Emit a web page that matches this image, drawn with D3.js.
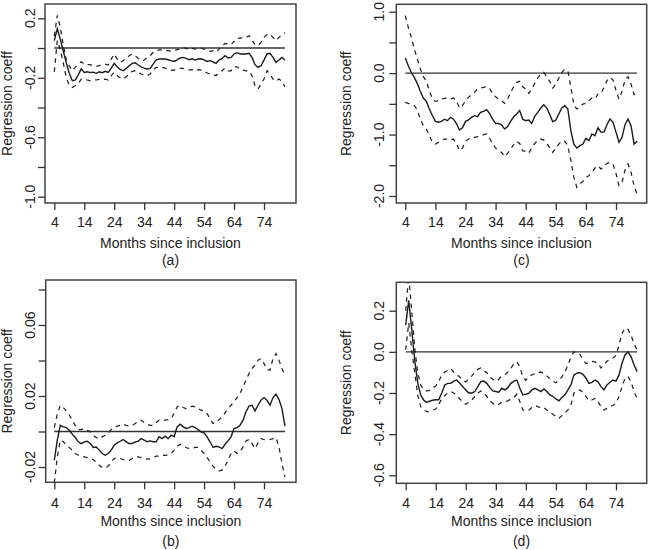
<!DOCTYPE html>
<html><head><meta charset="utf-8">
<script src="https://cdnjs.cloudflare.com/ajax/libs/d3/7.8.5/d3.min.js"></script>
<style>body{margin:0;background:#fff}svg{display:block}text{font-family:"Liberation Sans",Arial,Helvetica,sans-serif;fill:#222}</style>
</head><body><svg id="c" width="648" height="550"></svg>
<script>
// ---- data ----
const months = [4,5,6,7,8,9,10,11,12,13,14,15,16,17,18,19,20,21,22,23,24,25,26,27,28,29,30,31,32,33,34,35,36,37,38,39,40,41,42,43,44,45,46,47,48,49,50,51,52,53,54,55,56,57,58,59,60,61,62,63,64,65,66,67,68,69,70,71,72,73,74,75,76,77,78,79,80,81];
const xTicks = [4,14,24,34,44,54,64,74];
const xTickLabels = ["4","14","24","34","44","54","64","74"];
const xTitle = "Months since inclusion";
const yTitle = "Regression coeff";

// panel (a)
const aSolid = [0.05,0.13,0.06,-0.02,-0.10,-0.17,-0.22,-0.215,-0.18,-0.14,-0.165,-0.16,-0.165,-0.162,-0.17,-0.16,-0.166,-0.157,-0.164,-0.135,-0.103,-0.126,-0.144,-0.153,-0.137,-0.119,-0.103,-0.099,-0.114,-0.126,-0.135,-0.141,-0.137,-0.108,-0.079,-0.074,-0.074,-0.074,-0.079,-0.085,-0.09,-0.079,-0.067,-0.063,-0.07,-0.079,-0.072,-0.081,-0.074,-0.072,-0.079,-0.09,-0.085,-0.094,-0.103,-0.081,-0.07,-0.052,-0.067,-0.063,-0.04,-0.031,-0.04,-0.04,-0.04,-0.036,-0.063,-0.112,-0.13,-0.119,-0.081,-0.04,-0.036,-0.063,-0.097,-0.081,-0.063,-0.081];
const aUpper = [0.08,0.22,0.14,0.02,-0.08,-0.12,-0.153,-0.13,-0.108,-0.092,-0.108,-0.112,-0.112,-0.119,-0.123,-0.119,-0.112,-0.108,-0.114,-0.074,-0.04,-0.074,-0.097,-0.085,-0.067,-0.052,-0.04,-0.052,-0.07,-0.085,-0.081,-0.063,-0.052,-0.029,-0.018,-0.013,-0.013,-0.018,-0.018,-0.022,-0.018,-0.011,-0.007,0.004,-0.002,-0.007,0.0,-0.007,0.0,0.0,-0.007,-0.018,-0.022,-0.018,-0.029,-0.007,0.016,0.031,0.027,0.022,0.045,0.067,0.065,0.072,0.072,0.083,0.054,0.022,0.016,0.038,0.072,0.09,0.094,0.072,0.05,0.072,0.09,0.103];
const aLower = [-0.16,0.05,-0.01,-0.10,-0.20,-0.25,-0.265,-0.254,-0.238,-0.209,-0.209,-0.215,-0.22,-0.215,-0.215,-0.211,-0.213,-0.209,-0.215,-0.186,-0.164,-0.186,-0.2,-0.209,-0.193,-0.175,-0.157,-0.153,-0.164,-0.175,-0.182,-0.186,-0.175,-0.148,-0.13,-0.13,-0.13,-0.135,-0.141,-0.148,-0.148,-0.141,-0.137,-0.137,-0.144,-0.148,-0.146,-0.153,-0.146,-0.148,-0.153,-0.168,-0.175,-0.179,-0.186,-0.164,-0.153,-0.135,-0.153,-0.153,-0.126,-0.126,-0.141,-0.148,-0.153,-0.153,-0.186,-0.254,-0.276,-0.243,-0.209,-0.153,-0.175,-0.209,-0.224,-0.209,-0.224,-0.26];
const aYTicks = [-1.0,-0.8,-0.6,-0.4,-0.2,0.0,0.2];
const aYTickLabels = ["-1.0","","-0.6","","-0.2","","0.2"];

// panel (c)
const cSolid = [0.246,0.12,0.01,-0.07,-0.17,-0.30,-0.405,-0.46,-0.585,-0.69,-0.785,-0.80,-0.785,-0.75,-0.775,-0.72,-0.75,-0.82,-0.925,-0.89,-0.785,-0.76,-0.72,-0.693,-0.71,-0.64,-0.622,-0.595,-0.655,-0.75,-0.82,-0.82,-0.84,-0.91,-0.87,-0.785,-0.71,-0.665,-0.61,-0.75,-0.775,-0.765,-0.82,-0.705,-0.64,-0.568,-0.515,-0.568,-0.676,-0.79,-0.763,-0.665,-0.568,-0.53,-0.584,-0.937,-1.155,-1.22,-1.18,-1.155,-1.06,-1.10,-0.99,-1.018,-0.89,-0.96,-0.96,-0.839,-0.747,-0.80,-0.96,-1.127,-1.045,-0.839,-0.747,-0.856,-1.154,-1.11];
const cUpper = [0.935,0.745,0.582,0.392,0.23,0.067,-0.058,-0.134,-0.286,-0.422,-0.46,-0.449,-0.422,-0.411,-0.405,-0.422,-0.405,-0.449,-0.568,-0.53,-0.449,-0.394,-0.351,-0.313,-0.259,-0.243,-0.232,-0.221,-0.248,-0.329,-0.384,-0.422,-0.449,-0.492,-0.422,-0.313,-0.221,-0.15,-0.134,-0.221,-0.259,-0.329,-0.259,-0.167,-0.08,-0.015,0.012,-0.058,-0.134,-0.243,-0.178,-0.08,0.012,0.061,0.04,-0.232,-0.514,-0.584,-0.557,-0.503,-0.492,-0.449,-0.405,-0.422,-0.34,-0.329,-0.232,-0.123,-0.069,-0.112,-0.286,-0.422,-0.297,-0.112,-0.058,-0.178,-0.351,-0.313];
const cLower = [-0.476,-0.492,-0.503,-0.53,-0.601,-0.748,-0.856,-0.911,-1.019,-1.127,-1.155,-1.127,-1.1,-1.073,-1.073,-1.089,-1.073,-1.144,-1.263,-1.219,-1.111,-1.073,-1.057,-1.046,-1.035,-1.019,-1.002,-0.991,-1.057,-1.155,-1.219,-1.263,-1.29,-1.36,-1.306,-1.236,-1.165,-1.111,-1.144,-1.263,-1.274,-1.306,-1.219,-1.144,-1.1,-1.073,-1.089,-1.144,-1.219,-1.29,-1.219,-1.155,-1.1,-1.111,-1.181,-1.425,-1.697,-1.86,-1.805,-1.762,-1.697,-1.67,-1.615,-1.545,-1.507,-1.561,-1.523,-1.469,-1.453,-1.48,-1.632,-1.832,-1.778,-1.577,-1.48,-1.615,-1.832,-1.968];
const cYTicks = [-2.0,-1.5,-1.0,-0.5,0.0,0.5,1.0];
const cYTickLabels = ["-2.0","","-1.0","","0.0","","1.0"];

// panel (b)
const bSolid = [-0.0162,-0.0049,0.0035,0.0026,0.0022,0.0007,-0.0015,-0.0034,-0.0058,-0.0068,-0.0058,-0.0055,-0.0068,-0.009,-0.0087,-0.0105,-0.0124,-0.0134,-0.0124,-0.0105,-0.0077,-0.0064,-0.0055,-0.0045,-0.0058,-0.0068,-0.0068,-0.0058,-0.0055,-0.004,-0.0049,-0.0058,-0.0053,-0.0058,-0.0058,-0.003,-0.004,-0.0026,-0.004,-0.0021,-0.003,0.0026,0.0041,0.0026,0.0017,0.0022,0.003,0.0022,0.0011,-0.0002,-0.0008,-0.003,-0.0058,-0.009,-0.0083,-0.0087,-0.0096,-0.0072,-0.0053,-0.003,0.0017,0.0022,0.0035,0.0064,0.0111,0.0143,0.0148,0.0116,0.0148,0.0176,0.0191,0.0176,0.0148,0.0191,0.021,0.018,0.0129,0.003];
const bUpper = [0.0022,0.0097,0.0148,0.0135,0.0116,0.0092,0.0064,0.0035,0.0011,0.0011,0.0017,0.0007,-0.0002,-0.0021,-0.0034,-0.0042,-0.003,-0.0021,-0.0008,0.0011,0.0022,0.003,0.0035,0.0041,0.0035,0.003,0.0034,0.0045,0.0058,0.0064,0.0051,0.0041,0.0035,0.0035,0.0049,0.0064,0.006,0.0064,0.0067,0.0073,0.0101,0.0139,0.0148,0.0135,0.0129,0.0133,0.0143,0.0139,0.0129,0.012,0.0116,0.0101,0.0073,0.0045,0.0049,0.0067,0.0082,0.0105,0.0129,0.0148,0.0167,0.0191,0.0214,0.0251,0.0289,0.0327,0.0355,0.0374,0.0402,0.0411,0.0383,0.0349,0.0345,0.0411,0.0439,0.0402,0.0355,0.0317];
const bLower = [-0.029,-0.0143,-0.0049,-0.0058,-0.0077,-0.009,-0.0105,-0.0124,-0.0134,-0.0139,-0.0143,-0.0147,-0.0152,-0.0158,-0.0171,-0.019,-0.0203,-0.0205,-0.0195,-0.0171,-0.0152,-0.0147,-0.0152,-0.0158,-0.0162,-0.0162,-0.0152,-0.0143,-0.0143,-0.0147,-0.0152,-0.0156,-0.0154,-0.0147,-0.0139,-0.0139,-0.0135,-0.0134,-0.0132,-0.0124,-0.0105,-0.0083,-0.0072,-0.0083,-0.009,-0.0096,-0.0096,-0.009,-0.009,-0.0105,-0.0124,-0.0147,-0.0171,-0.0195,-0.0214,-0.0222,-0.0218,-0.0195,-0.0162,-0.0124,-0.0109,-0.0124,-0.0115,-0.0087,-0.0053,-0.0045,-0.0068,-0.0096,-0.0064,-0.004,-0.0045,-0.0049,-0.0045,-0.004,-0.0034,-0.0087,-0.018,-0.0256];
const bYTicks = [-0.02,0.0,0.02,0.04,0.06,0.08];
const bYTickLabels = ["-0.02","","0.02","","0.06",""];

// panel (d)
const dSolid = [0.13,0.25,0.11,-0.04,-0.15,-0.21,-0.235,-0.245,-0.24,-0.235,-0.233,-0.233,-0.2,-0.161,-0.153,-0.153,-0.142,-0.137,-0.153,-0.169,-0.185,-0.2,-0.2,-0.193,-0.169,-0.145,-0.142,-0.153,-0.174,-0.19,-0.193,-0.196,-0.177,-0.185,-0.174,-0.153,-0.142,-0.137,-0.177,-0.209,-0.206,-0.201,-0.185,-0.177,-0.185,-0.193,-0.18,-0.193,-0.209,-0.217,-0.229,-0.238,-0.222,-0.209,-0.185,-0.161,-0.112,-0.104,-0.101,-0.109,-0.128,-0.153,-0.148,-0.137,-0.145,-0.169,-0.185,-0.161,-0.148,-0.137,-0.142,-0.112,-0.055,-0.015,0.0,-0.023,-0.063,-0.096];
const dUpper = [0.2,0.37,0.2,0.02,-0.10,-0.16,-0.185,-0.19,-0.187,-0.175,-0.166,-0.143,-0.114,-0.098,-0.09,-0.081,-0.098,-0.111,-0.122,-0.138,-0.146,-0.13,-0.117,-0.101,-0.085,-0.078,-0.09,-0.101,-0.122,-0.133,-0.143,-0.133,-0.117,-0.111,-0.098,-0.081,-0.057,-0.049,-0.073,-0.122,-0.138,-0.122,-0.111,-0.106,-0.101,-0.098,-0.106,-0.117,-0.13,-0.143,-0.15,-0.138,-0.122,-0.098,-0.065,-0.025,0.0,-0.004,-0.013,-0.036,-0.057,-0.052,-0.046,-0.049,-0.057,-0.078,-0.062,-0.046,-0.036,-0.03,-0.017,0.032,0.089,0.116,0.11,0.081,0.04,0.01];
const dLower = [0.01,0.14,0.01,-0.10,-0.21,-0.266,-0.283,-0.29,-0.29,-0.283,-0.278,-0.255,-0.229,-0.212,-0.2,-0.193,-0.2,-0.212,-0.229,-0.242,-0.255,-0.245,-0.234,-0.217,-0.2,-0.19,-0.2,-0.217,-0.238,-0.25,-0.261,-0.255,-0.245,-0.242,-0.238,-0.229,-0.222,-0.206,-0.242,-0.283,-0.287,-0.283,-0.271,-0.261,-0.266,-0.274,-0.271,-0.283,-0.293,-0.303,-0.314,-0.323,-0.31,-0.298,-0.282,-0.258,-0.2,-0.19,-0.185,-0.196,-0.217,-0.238,-0.234,-0.226,-0.242,-0.266,-0.283,-0.274,-0.266,-0.261,-0.25,-0.217,-0.169,-0.128,-0.12,-0.145,-0.193,-0.226];
const dYTicks = [-0.6,-0.4,-0.2,0.0,0.2];
const dYTickLabels = ["-0.6","-0.4","-0.2","0.0","0.2"];

const panelLetters = ["(a)","(c)","(b)","(d)"];

// ---- layout ----
const FS = 14;
const panels = [
  {L:45, R:296, T:4, B:203, xr:[54.3,264], yd:[-1.0,0.2], yr:[196.7,18.3], s:aSolid, u:aUpper, l:aLower, yt:aYTicks, yl:aYTickLabels, tb:227, xb:248, cb:265, ytx:12, ylx:35, lab:panelLetters[0]},
  {L:396.3, R:646.7, T:4.3, B:203, xr:[405.3,616], yd:[-2.0,1.0], yr:[196,11.7], s:cSolid, u:cUpper, l:cLower, yt:cYTicks, yl:cYTickLabels, tb:227, xb:248, cb:265, ytx:351, ylx:384, lab:panelLetters[1]},
  {L:45.7, R:296, T:280, B:482.3, xr:[54.3,264], yd:[-0.02,0.06], yr:[467,325], s:bSolid, u:bUpper, l:bLower, yt:bYTicks, yl:bYTickLabels, tb:508, xb:526, cb:546, ytx:12, ylx:35, lab:panelLetters[2]},
  {L:396.3, R:646.7, T:282.3, B:483.3, xr:[405.7,616], yd:[-0.6,0.2], yr:[475.3,310.7], s:dSolid, u:dUpper, l:dLower, yt:dYTicks, yl:dYTickLabels, tb:508, xb:526, cb:546, ytx:351, ylx:384, lab:panelLetters[3]}
];

const svg = d3.select("#c");
svg.append("rect").attr("width",648).attr("height",550).attr("fill","#fff");

panels.forEach((p,i)=>{
  const x = d3.scaleLinear().domain([4,74]).range(p.xr);
  const y = d3.scaleLinear().domain(p.yd).range(p.yr);
  const g = svg.append("g");
  const cid = "clip"+i;
  svg.append("clipPath").attr("id",cid).append("rect")
    .attr("x",p.L).attr("y",p.T).attr("width",p.R-p.L).attr("height",p.B-p.T);
  const pg = g.append("g").attr("clip-path",`url(#${cid})`);
  const line = d3.line().x((d,j)=>x(months[j])).y(d=>y(d));
  pg.append("path").attr("d", d3.line()([[x(months[0]),y(0)],[x(months[months.length-1]),y(0)]]))
    .attr("stroke","#333").attr("stroke-width",1.4).attr("fill","none");
  [p.u,p.l].forEach(arr=>{
    pg.append("path").attr("d",line(arr)).attr("fill","none").attr("stroke","#222")
      .attr("stroke-width",1.25).attr("stroke-dasharray","4.5,4.5");
  });
  pg.append("path").attr("d",line(p.s)).attr("fill","none").attr("stroke","#1a1a1a").attr("stroke-width",1.4);
  g.append("rect").attr("x",p.L).attr("y",p.T).attr("width",p.R-p.L).attr("height",p.B-p.T)
    .attr("fill","none").attr("stroke","#444").attr("stroke-width",1.5);
  const xa = d3.axisBottom(x).tickValues(xTicks).tickSize(7).tickSizeOuter(0).tickFormat((d,k)=>xTickLabels[k]);
  const xg = g.append("g").attr("transform",`translate(0,${p.B})`).call(xa);
  xg.select(".domain").remove();
  xg.selectAll("line").attr("stroke","#333").attr("stroke-width",1.3);
  xg.selectAll("text").attr("dy",null)
    .attr("font-size",FS).style("font-family",'"Liberation Sans",Arial,sans-serif').attr("fill","#222")
    .attr("y", p.tb - p.B);
  const ya = d3.axisLeft(y).tickValues(p.yt).tickSize(7).tickSizeOuter(0).tickFormat(()=>"");
  const yg = g.append("g").attr("transform",`translate(${p.L},0)`).call(ya);
  yg.select(".domain").remove();
  yg.selectAll("line").attr("stroke","#333").attr("stroke-width",1.3);
  p.yt.forEach((v,k)=>{
    if(!p.yl[k]) return;
    g.append("text").attr("transform",`translate(${p.ylx},${y(v)}) rotate(-90)`)
      .attr("text-anchor","middle").attr("font-size",FS).text(p.yl[k]);
  });
  g.append("text").attr("x",(p.L+p.R)/2).attr("y",p.xb).attr("text-anchor","middle")
    .attr("font-size",FS).text(xTitle);
  g.append("text").attr("x",(p.L+p.R)/2).attr("y",p.cb).attr("text-anchor","middle")
    .attr("font-size",FS).text(p.lab);
  g.append("text").attr("transform",`translate(${p.ytx},${(p.T+p.B)/2}) rotate(-90)`)
    .attr("text-anchor","middle").attr("font-size",FS).text(yTitle);
});
</script></body></html>
